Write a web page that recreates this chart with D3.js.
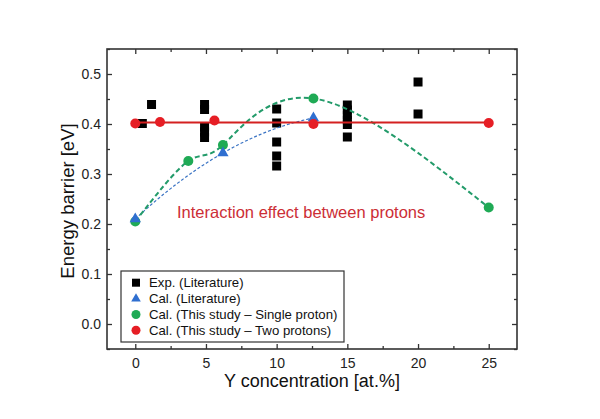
<!DOCTYPE html>
<html><head><meta charset="utf-8">
<script src="https://cdn.jsdelivr.net/npm/d3@7"></script>
<style>
body{margin:0;background:#fff;}
svg{display:block;font-family:Arial,"Liberation Sans",sans-serif;}
</style></head>
<body><svg id="c" width="600" height="419"></svg>
<script>
// ---- data ----
const expX = [0.5, 1.15, 4.9, 4.9, 4.9, 4.9, 4.9, 10, 10, 10, 10, 10, 15, 15, 15, 15, 15, 15, 20, 20];
const expY = [0.401, 0.439, 0.439, 0.429, 0.394, 0.384, 0.373, 0.430, 0.402, 0.364, 0.336, 0.316, 0.438, 0.428, 0.418, 0.408, 0.399, 0.374, 0.484, 0.420];
const blueX = [0, 6.2, 12.6];
const blueY = [0.21, 0.342, 0.412];
const greenX = [0, 3.75, 6.2, 12.6, 25];
const greenY = [0.205, 0.326, 0.358, 0.451, 0.233];
const redX = [0, 1.75, 5.6, 12.6, 25];
const redY = [0.401, 0.404, 0.407, 0.400, 0.402];
const xTicks = [0, 5, 10, 15, 20, 25];
const yTicks = [0.0, 0.1, 0.2, 0.3, 0.4, 0.5];
const legendLabels = ["Exp. (Literature)", "Cal. (Literature)", "Cal. (This study \u2013 Single proton)", "Cal. (This study \u2013 Two protons)"];
const annotation = "Interaction effect between protons";
const xTitle = "Y concentration [at.%]";
const yTitle = "Energy barrier [eV]";

// least-squares polynomial fit (curve derived from the data points)
function polyfit(xs, ys, deg){
  const n = deg + 1, A = [], b = [];
  for (let i = 0; i < n; i++){ A.push(new Array(n).fill(0)); b.push(0); }
  xs.forEach((xv, k) => {
    for (let i = 0; i < n; i++){
      b[i] += ys[k] * Math.pow(xv, i);
      for (let j = 0; j < n; j++) A[i][j] += Math.pow(xv, i + j);
    }
  });
  for (let c = 0; c < n; c++){
    let p = c; for (let r = c + 1; r < n; r++) if (Math.abs(A[r][c]) > Math.abs(A[p][c])) p = r;
    [A[c], A[p]] = [A[p], A[c]]; [b[c], b[p]] = [b[p], b[c]];
    for (let r = 0; r < n; r++){ if (r === c) continue;
      const f = A[r][c] / A[c][c];
      for (let j = c; j < n; j++) A[r][j] -= f * A[c][j];
      b[r] -= f * b[c];
    }
  }
  const coef = b.map((v, i) => v / A[i][i]);
  return xv => coef.reduce((s, c, i) => s + c * Math.pow(xv, i), 0);
}

// ---- layout ----
const L = 107, R = 517, T = 49, B = 349;
const svg = d3.select("#c");
const x = d3.scaleLinear().domain([-2, 27]).range([L, R]);
const y = d3.scaleLinear().domain([-0.05, 0.55]).range([B, T]);
const axisCol = "#333";
const cBlack = "#000", cBlue = "#2f6fd0", cGreen = "#1faa55", cRed = "#e61e25";

const minorX = d3.range(0, 27.01, 2.5).filter(v => xTicks.indexOf(v) < 0);
const minorY = d3.range(-0.05, 0.551, 0.05).map(v => +v.toFixed(2)).filter(v => !yTicks.some(t => Math.abs(t - v) < 1e-9));

function styleAxis(g){
  g.select(".domain").remove();
  g.selectAll("line").attr("stroke", axisCol).attr("stroke-width", 1.3);
  g.selectAll("text").attr("fill", "#222").style("font-size", "14px").style("font-family", "Arial, 'Liberation Sans', sans-serif");
}
svg.append("g").attr("transform", `translate(0,${B})`)
  .call(d3.axisBottom(x).tickValues(xTicks).tickSizeInner(-5).tickSizeOuter(0).tickPadding(9).tickFormat(d3.format("d"))).call(styleAxis);
svg.append("g").attr("transform", `translate(0,${B})`)
  .call(d3.axisBottom(x).tickValues(minorX).tickSizeInner(-3).tickSizeOuter(0).tickFormat("")).call(styleAxis);
svg.append("g").attr("transform", `translate(0,${T})`)
  .call(d3.axisTop(x).tickValues(xTicks).tickSizeInner(-5).tickSizeOuter(0).tickFormat("")).call(styleAxis);
svg.append("g").attr("transform", `translate(0,${T})`)
  .call(d3.axisTop(x).tickValues(minorX).tickSizeInner(-3).tickSizeOuter(0).tickFormat("")).call(styleAxis);
svg.append("g").attr("transform", `translate(${L},0)`)
  .call(d3.axisLeft(y).tickValues(yTicks).tickSizeInner(-5).tickSizeOuter(0).tickPadding(6).tickFormat(d3.format(".1f"))).call(styleAxis);
svg.append("g").attr("transform", `translate(${L},0)`)
  .call(d3.axisLeft(y).tickValues(minorY).tickSizeInner(-3).tickSizeOuter(0).tickFormat("")).call(styleAxis);
svg.append("g").attr("transform", `translate(${R},0)`)
  .call(d3.axisRight(y).tickValues(yTicks).tickSizeInner(-5).tickSizeOuter(0).tickFormat("")).call(styleAxis);
svg.append("g").attr("transform", `translate(${R},0)`)
  .call(d3.axisRight(y).tickValues(minorY).tickSizeInner(-3).tickSizeOuter(0).tickFormat("")).call(styleAxis);

svg.append("rect").attr("x", L).attr("y", T).attr("width", R - L).attr("height", B - T)
  .attr("fill", "none").attr("stroke", axisCol).attr("stroke-width", 1.6);

svg.append("text").attr("x", 312).attr("y", 387).attr("text-anchor", "middle")
  .style("font-size", "18px").attr("fill", "#111").text(xTitle);
svg.append("text").attr("transform", "translate(74,201) rotate(-90)").attr("text-anchor", "middle")
  .style("font-size", "18.5px").attr("fill", "#111").text(yTitle);

// exp squares
const sq = 9;
svg.append("g").selectAll("rect").data(expX.map((v, i) => [v, expY[i]])).join("rect")
  .attr("x", d => x(d[0]) - sq / 2).attr("y", d => y(d[1]) - sq / 2)
  .attr("width", sq).attr("height", sq).attr("fill", cBlack);

// curves through the data
const line = d3.line().x(d => x(d[0])).y(d => y(d[1]));
const fb = polyfit(blueX, blueY, 2);
const blueCurve = d3.range(0, 101).map(i => { const xv = d3.min(blueX) + (d3.max(blueX) - d3.min(blueX)) * i / 100; return [xv, fb(xv)]; });
svg.append("path").datum(blueCurve).attr("d", line)
  .attr("fill", "none").attr("stroke", "#3b74c4").attr("stroke-width", 1.2).attr("stroke-dasharray", "3,2");
svg.append("path").datum(greenX.map((v, i) => [v, greenY[i]]))
  .attr("d", d3.line().x(d => x(d[0])).y(d => y(d[1])).curve(d3.curveNatural))
  .attr("fill", "none").attr("stroke", "#239b6a").attr("stroke-width", 2).attr("stroke-dasharray", "5,3");
const redMean = d3.mean(redY);
svg.append("line").attr("x1", x(d3.min(redX))).attr("x2", x(d3.max(redX)))
  .attr("y1", y(redMean)).attr("y2", y(redMean)).attr("stroke", "#d42020").attr("stroke-width", 2);

svg.append("g").selectAll("circle").data(greenX.map((v, i) => [v, greenY[i]])).join("circle")
  .attr("cx", d => x(d[0])).attr("cy", d => y(d[1])).attr("r", 5).attr("fill", cGreen);
const tri = d3.symbol().type(d3.symbolTriangle).size(55);
svg.append("g").selectAll("path").data(blueX.map((v, i) => [v, blueY[i]])).join("path")
  .attr("transform", d => `translate(${x(d[0])},${y(d[1])})`).attr("d", tri).attr("fill", cBlue);
svg.append("g").selectAll("circle").data(redX.map((v, i) => [v, redY[i]])).join("circle")
  .attr("cx", d => x(d[0])).attr("cy", d => y(d[1])).attr("r", 5).attr("fill", cRed);

svg.append("text").attr("x", 177).attr("y", 218).style("font-size", "16.5px")
  .attr("fill", "#cc2e36").text(annotation);

const lg = svg.append("g");
lg.append("rect").attr("x", 121).attr("y", 271).attr("width", 223).attr("height", 71)
  .attr("fill", "#fff").attr("stroke", axisCol).attr("stroke-width", 1.2);
const rows = [282.7, 298.7, 314.5, 330.3];
const sx = 136;
lg.append("rect").attr("x", sx - 4).attr("y", rows[0] - 4).attr("width", 8).attr("height", 8).attr("fill", cBlack);
lg.append("path").attr("transform", `translate(${sx},${rows[1]})`).attr("d", d3.symbol().type(d3.symbolTriangle).size(40)).attr("fill", cBlue);
lg.append("circle").attr("cx", sx).attr("cy", rows[2]).attr("r", 4.5).attr("fill", cGreen);
lg.append("circle").attr("cx", sx).attr("cy", rows[3]).attr("r", 4.5).attr("fill", cRed);
lg.selectAll("text").data(legendLabels).join("text")
  .attr("x", 149).attr("y", (d, i) => rows[i]).attr("dy", "0.36em")
  .style("font-size", "13.2px").attr("fill", "#111").text(d => d);
</script></body></html>
